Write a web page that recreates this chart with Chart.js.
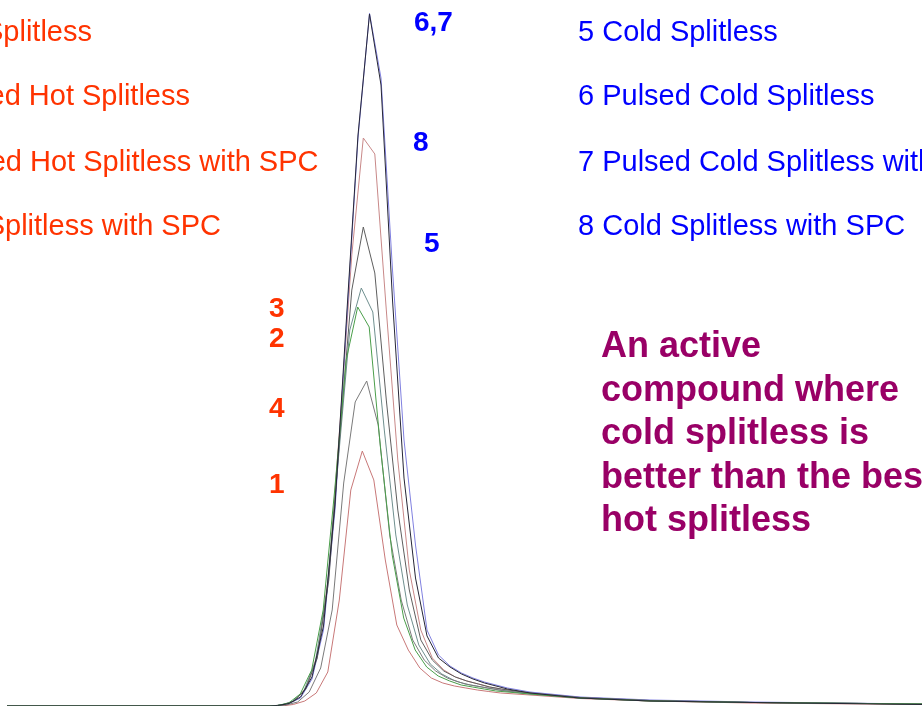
<!DOCTYPE html>
<html>
<head>
<meta charset="utf-8">
<script src="https://cdn.jsdelivr.net/npm/chart.js@4"></script>
<style>
  html, body { margin: 0; padding: 0; background: #fff; overflow: hidden; }
  #wrap { position: relative; width: 922px; height: 708px; }
</style>
</head>
<body>
<div id="wrap"><canvas id="chart" width="922" height="708"></canvas></div>
<script>
// ── Data: retention time (min) vs. relative abundance (%) ────────────────────
const hotLabels  = ['1 Hot Splitless', '2 Pulsed Hot Splitless', '3 Pulsed Hot Splitless with SPC', '4 Hot Splitless with SPC'];
const coldLabels = ['5 Cold Splitless', '6 Pulsed Cold Splitless', '7 Pulsed Cold Splitless with SPC', '8 Cold Splitless with SPC'];
const noteLines  = ['An active', 'compound where', 'cold splitless is', 'better than the best', 'hot splitless'];
const hotPeakTags  = ['3', '2', '4', '1'];
const coldPeakTags = ['6,7', '8', '5'];

const time1 = [12.007, 12.270, 12.2818, 12.2933, 12.3048, 12.3163, 12.3278, 12.3393, 12.3508, 12.3623, 12.3738, 12.3853, 12.3968, 12.4083, 12.4198, 12.4313, 12.4428, 12.4543, 12.4658, 12.4773, 12.4888, 12.5003, 12.530, 12.580, 12.650, 12.750, 12.922];
const abund1 = [0, 0, 0, 0.22, 0.72, 1.88, 4.91, 15.30, 31.18, 36.81, 32.63, 21.08, 11.69, 8.08, 5.49, 4.04, 3.32, 2.89, 2.60, 2.31, 2.09, 1.88, 1.59, 1.08, 0.72, 0.43, 0.22];

const time2 = [12.007, 12.270, 12.2772, 12.2887, 12.3002, 12.3117, 12.3232, 12.3347, 12.3462, 12.3577, 12.3692, 12.3807, 12.3922, 12.4037, 12.4152, 12.4267, 12.4382, 12.4497, 12.4612, 12.4727, 12.4842, 12.4957, 12.530, 12.580, 12.650, 12.750, 12.922];
const abund2 = [0, 0, 0.07, 0.43, 1.73, 5.20, 13.86, 31.18, 49.95, 57.60, 54.71, 36.96, 21.80, 12.70, 8.08, 5.63, 4.33, 3.61, 3.03, 2.74, 2.45, 2.17, 1.73, 1.15, 0.72, 0.51, 0.29];

const time3 = [12.007, 12.270, 12.2808, 12.2923, 12.3038, 12.3153, 12.3268, 12.3383, 12.3498, 12.3613, 12.3728, 12.3843, 12.3958, 12.4073, 12.4188, 12.4303, 12.4418, 12.4533, 12.4648, 12.4763, 12.4878, 12.4993, 12.530, 12.580, 12.650, 12.750, 12.922];
const abund3 = [0, 0, 0.14, 0.65, 2.17, 6.35, 16.46, 35.51, 54.28, 60.34, 56.88, 39.84, 24.69, 14.58, 8.81, 6.06, 4.62, 3.75, 3.18, 2.89, 2.60, 2.31, 1.80, 1.15, 0.79, 0.51, 0.29];

const time4 = [12.007, 12.270, 12.2862, 12.2977, 12.3092, 12.3207, 12.3322, 12.3437, 12.3552, 12.3667, 12.3782, 12.3897, 12.4012, 12.4127, 12.4242, 12.4357, 12.4472, 12.4587, 12.4702, 12.4817, 12.4932, 12.5047, 12.530, 12.580, 12.650, 12.750, 12.922];
const abund4 = [0, 0, 0.14, 0.58, 2.02, 5.49, 13.86, 32.19, 43.89, 46.92, 40.57, 24.69, 15.30, 9.53, 6.64, 5.05, 4.04, 3.46, 3.03, 2.74, 2.45, 2.17, 1.73, 1.15, 0.72, 0.51, 0.29];

const time5 = [12.007, 12.270, 12.2828, 12.2943, 12.3058, 12.3173, 12.3288, 12.3403, 12.3518, 12.3633, 12.3748, 12.3863, 12.3978, 12.4093, 12.4208, 12.4323, 12.4438, 12.4553, 12.4668, 12.4783, 12.4898, 12.5013, 12.530, 12.580, 12.650, 12.750, 12.922];
const abund5 = [0, 0, 0.14, 0.72, 2.45, 6.93, 18.19, 39.84, 60.05, 69.15, 62.51, 44.17, 28.29, 16.75, 9.53, 6.64, 5.05, 4.19, 3.61, 3.18, 2.74, 2.45, 1.88, 1.23, 0.79, 0.51, 0.29];

const time6 = [12.007, 12.270, 12.2775, 12.289, 12.3005, 12.312, 12.3235, 12.335, 12.3465, 12.358, 12.3695, 12.381, 12.3925, 12.404, 12.4155, 12.427, 12.4385, 12.450, 12.4615, 12.473, 12.4845, 12.496, 12.5075, 12.530, 12.580, 12.650, 12.750, 12.922];
const abund6 = [0, 0, 0.07, 0.36, 1.15, 3.90, 10.97, 28.29, 55.15, 82.00, 100.0, 90.66, 62.94, 38.40, 23.24, 10.97, 7.36, 5.77, 4.76, 4.04, 3.46, 3.03, 2.60, 2.02, 1.30, 0.87, 0.58, 0.29];

const time7 = time6;
const abund7 = [0, 0, 0.07, 0.36, 1.30, 4.19, 11.55, 29.02, 56.01, 82.43, 99.90, 89.65, 58.61, 32.91, 18.48, 10.11, 6.93, 5.63, 4.62, 3.90, 3.32, 2.89, 2.45, 1.88, 1.15, 0.72, 0.51, 0.22];

const time8 = [12.007, 12.270, 12.2828, 12.2943, 12.3058, 12.3173, 12.3288, 12.3403, 12.3518, 12.3633, 12.3748, 12.3863, 12.3978, 12.4093, 12.4208, 12.4323, 12.4438, 12.4553, 12.4668, 12.4783, 12.4898, 12.5013, 12.530, 12.580, 12.650, 12.750, 12.922];
const abund8 = [0, 0, 0.14, 0.72, 2.60, 7.36, 18.91, 41.29, 65.11, 82.00, 79.69, 57.17, 35.51, 19.63, 10.97, 6.93, 5.20, 4.19, 3.61, 3.18, 2.74, 2.45, 1.88, 1.23, 0.79, 0.51, 0.29];

// ── Styles ────────────────────────────────────────────────────────────────────
const HOT   = '#ff3300';
const COLD  = '#0000ff';
const NOTE  = '#990066';
const FONT  = '"Liberation Sans", Arial, Helvetica, sans-serif';
const lineColors = ['#c87878', '#4a9e4a', '#6f8f8f', '#7a7a7a', '#5e5e5e', '#8080e0', '#262636', '#c88888'];
const drawOrder  = [6, 1, 5, 4, 3, 7, 0, 8];   // lower = drawn on top (dark/green lines over the rest)

const pairs = (t, a) => t.map((x, i) => ({ x, y: a[i] }));
const series = [
  pairs(time1, abund1), pairs(time2, abund2), pairs(time3, abund3), pairs(time4, abund4),
  pairs(time5, abund5), pairs(time6, abund6), pairs(time7, abund7), pairs(time8, abund8),
];
const allLabels = hotLabels.concat(coldLabels);

// draw the slide text over the traces
const slideText = {
  id: 'slideText',
  afterDraw(chart) {
    const ctx = chart.ctx;
    ctx.save();
    ctx.textBaseline = 'alphabetic';

    ctx.font = `29px ${FONT}`;
    ctx.fillStyle = HOT;
    ctx.textAlign = 'right';
    const hotRight = [92, 190, 318.5, 221];
    const rowY = [41, 105, 171, 235];
    hotLabels.forEach((s, i) => ctx.fillText(s, hotRight[i], rowY[i]));

    ctx.fillStyle = COLD;
    ctx.textAlign = 'left';
    coldLabels.forEach((s, i) => ctx.fillText(s, 578, rowY[i]));

    ctx.font = `bold 28px ${FONT}`;
    const coldTagPos = [[414, 30.5], [413, 151], [424, 252]];
    coldPeakTags.forEach((s, i) => ctx.fillText(s, coldTagPos[i][0], coldTagPos[i][1]));
    ctx.fillStyle = HOT;
    const hotTagY = [317, 347, 417, 493];
    hotPeakTags.forEach((s, i) => ctx.fillText(s, 269, hotTagY[i]));

    ctx.font = `bold 36px ${FONT}`;
    ctx.fillStyle = NOTE;
    noteLines.forEach((s, i) => ctx.fillText(s, 601, 357 + i * 43.5));
    ctx.restore();
  }
};

new Chart(document.getElementById('chart').getContext('2d'), {
  type: 'line',
  data: {
    datasets: series.map((d, i) => ({
      label: allLabels[i],
      data: d,
      order: drawOrder[i],
      borderColor: lineColors[i],
      borderWidth: 1,
      pointRadius: 0,
      fill: false,
      tension: 0,
    }))
  },
  options: {
    responsive: false,
    animation: false,
    layout: { padding: { left: 0, right: 0, top: 0, bottom: 2 } },
    plugins: { legend: { display: false }, tooltip: { enabled: false } },
    scales: {
      x: { type: 'linear', min: 12.0, max: 12.922, display: false },
      y: { min: 0, max: 101.92, display: false }
    }
  },
  plugins: [slideText]
});
</script>
</body>
</html>
